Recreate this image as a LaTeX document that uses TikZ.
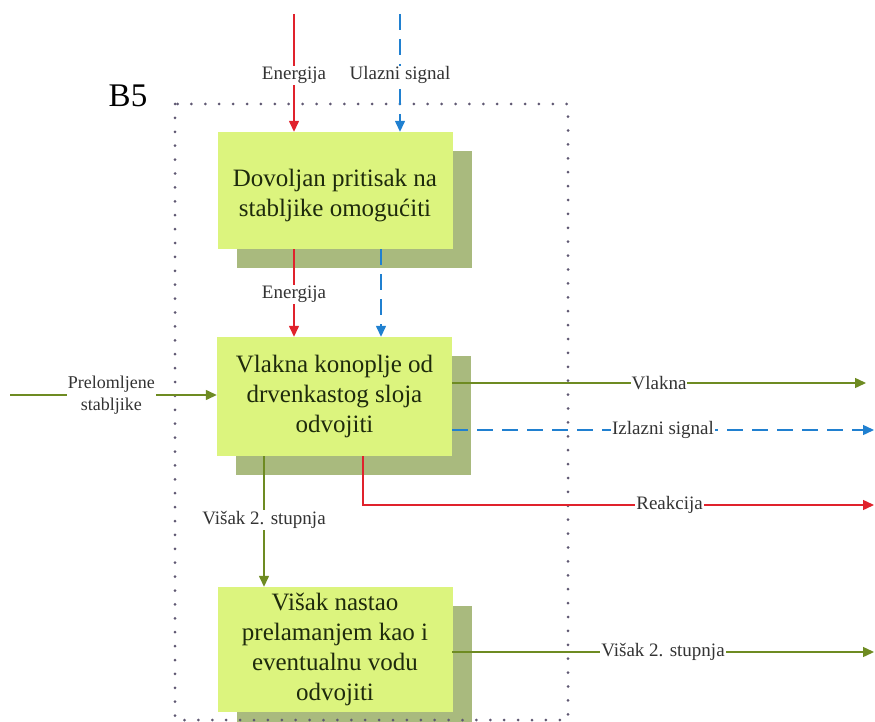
\documentclass[tikz,border=0pt]{standalone}
\usepackage{fontspec}
\setmainfont{Liberation Serif}
\usetikzlibrary{arrows.meta,shadows}
\definecolor{boxfill}{HTML}{DCF47E}
\definecolor{boxshadow}{HTML}{A9BA7E}
\definecolor{cgreen}{HTML}{6E8B22}
\definecolor{cred}{HTML}{E0222C}
\definecolor{cblue}{HTML}{2080D0}
\definecolor{dotc}{HTML}{5F5872}
\definecolor{boxtxt}{HTML}{1E2A0C}
\definecolor{lbltxt}{HTML}{333333}
\tikzset{
  proc/.style={rectangle, fill=boxfill, draw=none, text=boxtxt, align=center,
    font=\fontsize{25}{30}\selectfont, minimum width=235pt, inner sep=0pt,
    drop shadow={shadow xshift=19pt, shadow yshift=-19pt, fill=boxshadow, opacity=1}},
  lbl/.style={fill=white, text=lbltxt, font=\fontsize{19}{22}\selectfont, inner sep=1pt, align=center},
  tip/.style={-{Triangle[length=11pt,width=10pt]}},
  gline/.style={draw=cgreen, line width=1.4pt, tip},
  rline/.style={draw=cred, line width=1.4pt, tip},
  bline/.style={draw=cblue, line width=1.4pt, tip, dash pattern=on 16pt off 9pt},
  dotframe/.style={draw=dotc, line width=3pt, line cap=round, dash pattern=on 0pt off 13.9pt}
}
\begin{document}
\begin{tikzpicture}[x=1pt,y=-1pt]
\useasboundingbox (0,0) rectangle (875,722);

\node[font=\fontsize{33}{36}\selectfont, text=black, inner sep=0pt] (b5) at (128,96) {B5};

% boxes
\node[proc, minimum height=117pt] (b1) at (335,190.5)
  {\raisebox{-5pt}[\height][\depth]{\begin{tabular}{@{}c@{}}Dovoljan pritisak na\\stabljike omogućiti\end{tabular}}};
\node[proc, minimum height=119pt] (b2) at (334.5,396.5) {Vlakna konoplje od\\drvenkastog sloja\\odvojiti};
\node[proc, minimum height=125pt] (b3) at (335,649.5) {Višak nastao\\prelamanjem kao i\\eventualnu vodu\\odvojiti};

% dotted frame
\draw[dotframe] (175,104) rectangle (568,720);

% coordinates
\coordinate (rtop) at (294,14);
\coordinate (btop) at (400,14);
\coordinate (rmid) at (294,249);
\coordinate (bmid) at (381,249);
\coordinate (inL) at (10,395);
\coordinate (vS) at (452,383);
\coordinate (vE) at (866,383);
\coordinate (iS) at (452,430);
\coordinate (iE) at (874,430);
\coordinate (reS) at (363,456);
\coordinate (reC) at (363,505);
\coordinate (reE) at (874,505);
\coordinate (wS) at (264,456);
\coordinate (oS) at (452,652);
\coordinate (oE) at (874,652);

% inputs to box 1
\draw[rline] (rtop) -- node[lbl, pos=0.52] {Energija} (b1.north -| rtop);
\draw[bline] (btop) -- node[lbl, pos=0.52] {Ulazni signal} (b1.north -| btop);

% box 1 to box 2
\draw[rline] (rmid) -- node[lbl, pos=0.52] {Energija} (b2.north -| rmid);
\draw[bline] (bmid) -- (b2.north -| bmid);

% input to box 2
\draw[gline] (inL) -- node[lbl, pos=0.49, font=\fontsize{18}{22}\selectfont] {Prelomljene\\stabljike} (b2.west |- inL);

% outputs of box 2
\draw[gline] (vS) -- node[lbl, pos=0.5] {Vlakna} (vE);
\draw[bline] (iS) -- node[lbl, pos=0.5] {Izlazni signal} (iE);
\draw[rline] (reS) -- (reC) -- node[lbl, pos=0.6] {Reakcija} (reE);
\draw[gline] (wS) -- node[lbl, pos=0.49] {Višak 2. stupnja} (b3.north -| wS);

% output of box 3
\draw[gline] (oS) -- node[lbl, pos=0.5] {Višak 2. stupnja} (oE);
\end{tikzpicture}
\end{document}
